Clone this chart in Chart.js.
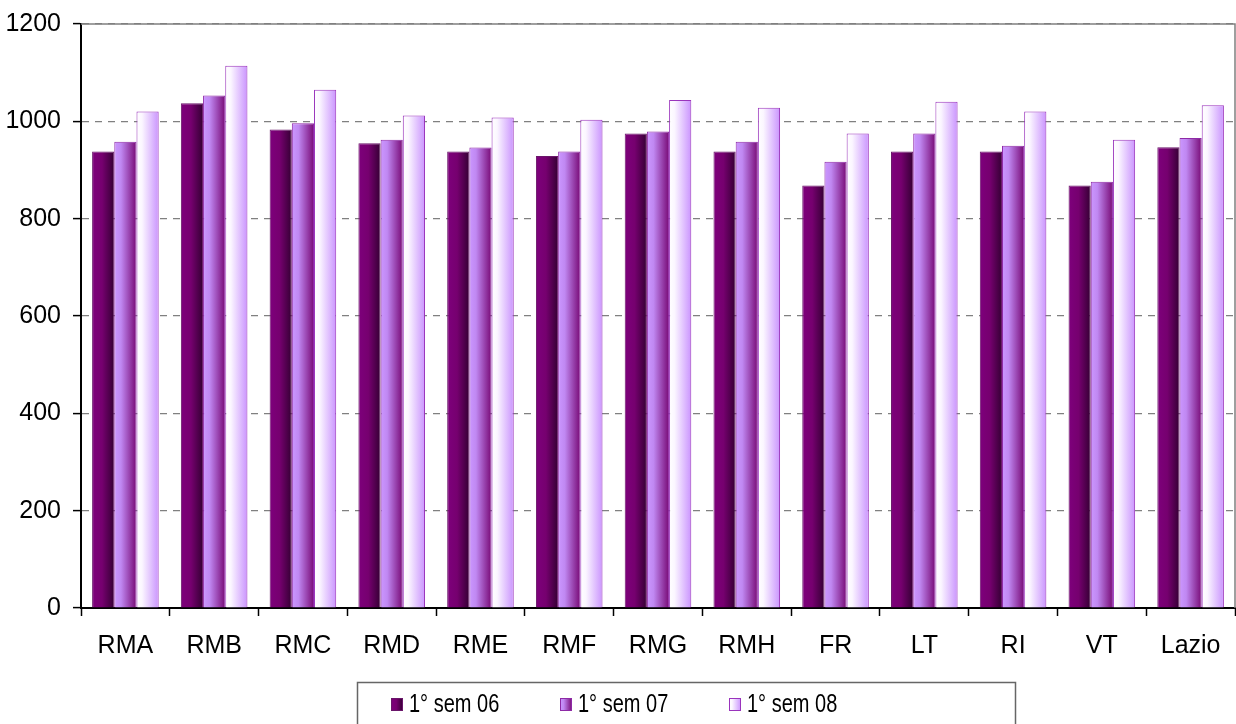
<!DOCTYPE html>
<html>
<head>
<meta charset="utf-8">
<script src="https://cdn.jsdelivr.net/npm/chart.js@4"></script>
<style>
  html, body { margin: 0; padding: 0; background: #fff; }
  #wrap { width: 1236px; height: 724px; }
</style>
</head>
<body>
<div id="wrap"><canvas id="myChart" width="1236" height="724"></canvas></div>
<script>
const categorie = ['RMA', 'RMB', 'RMC', 'RMD', 'RME', 'RMF', 'RMG', 'RMH', 'FR', 'LT', 'RI', 'VT', 'Lazio']
const sem06 = [938, 1037, 983, 955, 938, 929, 975, 938, 868, 938, 938, 868, 947]
const sem07 = [958, 1053, 996, 962, 946, 938, 979, 958, 917, 975, 950, 876, 966]
const sem08 = [1020, 1114, 1065, 1012, 1008, 1003, 1044, 1028, 975, 1040, 1020, 962, 1033]
const serie = ['1° sem 06', '1° sem 07', '1° sem 08']
const yTicks = [0, 200, 400, 600, 800, 1000, 1200]

const CAT_PCT = 0.75
const FONT = '"Liberation Sans", Arial, sans-serif'

// colour stops for the horizontal gradient of each series
const stops = [
    [[0, '#7e007c'], [0.45, '#76006f'], [1, '#340033']],
    [[0, '#cb97ff'], [0.3, '#c088f2'], [1, '#780a76']],
    [[0, '#ffffff'], [0.25, '#fbf6ff'], [1, '#ca94fe']]
]
const borders = ['#6a166a', '#8e2aa6', '#9a34bc']

function grad(ctx, i, left, w) {
    const g = ctx.createLinearGradient(left, 0, left + w, 0)
    stops[i].forEach(st => g.addColorStop(st[0], st[1]))
    return g
}

// every bar gets its own left-to-right gradient, once positions are known
const barShade = {
    id: 'barShade',
    beforeDatasetsDraw(chart) {
        chart.data.datasets.forEach((ds, i) => {
            chart.getDatasetMeta(i).data.forEach(el => {
                const {x, width} = el.getProps(['x', 'width'], true)
                el.options = Object.assign({}, el.options, {
                    backgroundColor: grad(chart.ctx, i, x - width / 2, width)
                })
            })
        })
    }
}

// top and right frame of the plot area
const frame = {
    id: 'frame',
    beforeDatasetsDraw(chart) {
        const {ctx, chartArea: a} = chart
        ctx.save()
        ctx.strokeStyle = '#808080'
        ctx.lineWidth = 1.5
        ctx.beginPath()
        ctx.moveTo(a.left, a.top)
        ctx.lineTo(a.right, a.top)
        ctx.lineTo(a.right, a.bottom)
        ctx.stroke()
        ctx.restore()
    }
}

// boxed legend like the original spreadsheet chart
const boxLegend = {
    id: 'boxLegend',
    afterDraw(chart) {
        const ctx = chart.ctx
        ctx.save()
        ctx.strokeStyle = '#666'
        ctx.lineWidth = 1.5
        ctx.strokeRect(357.5, 682.5, 658, 60)
        ctx.font = '25px ' + FONT
        ctx.textBaseline = 'alphabetic'
        serie.forEach((name, i) => {
            const x0 = 391 + i * 169
            const y0 = 698
            ctx.fillStyle = grad(ctx, i, x0, 12)
            ctx.fillRect(x0, y0, 12, 13)
            ctx.strokeStyle = borders[i]
            ctx.lineWidth = 1
            ctx.strokeRect(x0 + 0.5, y0 + 0.5, 11, 12)
            ctx.fillStyle = '#000'
            ctx.save()
            ctx.translate(x0 + 18, 712)
            ctx.scale(0.8, 1)
            ctx.fillText(name, 0, 0)
            ctx.restore()
        })
        ctx.restore()
    }
}

const ctx = document.getElementById('myChart').getContext('2d')

const myChart = new Chart(ctx, {
    type: 'bar',
    data: {
        labels: categorie,
        datasets: [sem06, sem07, sem08].map((d, i) => ({
            label: serie[i],
            data: d,
            backgroundColor: stops[i][1][1],
            borderColor: borders[i],
            borderWidth: 1,
            categoryPercentage: CAT_PCT,
            barPercentage: 1
        }))
    },
    options: {
        responsive: false,
        animation: false,
        layout: {
            padding: {top: 24, right: 1, left: 6, bottom: 48}
        },
        plugins: {
            legend: {display: false},
            tooltip: {enabled: false}
        },
        scales: {
            x: {
                grid: {
                    drawOnChartArea: false,
                    tickLength: 8,
                    tickColor: '#000',
                    tickWidth: 1.5
                },
                border: {color: '#000', width: 2},
                ticks: {
                    color: '#000',
                    font: {size: 25, family: FONT},
                    padding: 15
                }
            },
            y: {
                min: 0,
                max: 1200,
                afterBuildTicks: axis => { axis.ticks = yTicks.map(v => ({value: v})) },
                afterFit: axis => {
                    axis.width = 75
                    axis.paddingTop = 0
                    axis.paddingBottom = 0
                },
                grid: {
                    color: '#808080',
                    lineWidth: 1.2,
                    tickLength: 8,
                    tickColor: '#000',
                    tickWidth: 1.5
                },
                border: {color: '#000', width: 2, dash: [7, 6]},
                ticks: {
                    color: '#000',
                    font: {size: 25, family: FONT},
                    padding: 12,
                    callback: v => String(v)
                }
            }
        }
    },
    plugins: [barShade, frame, boxLegend]
});
</script>
</body>
</html>
